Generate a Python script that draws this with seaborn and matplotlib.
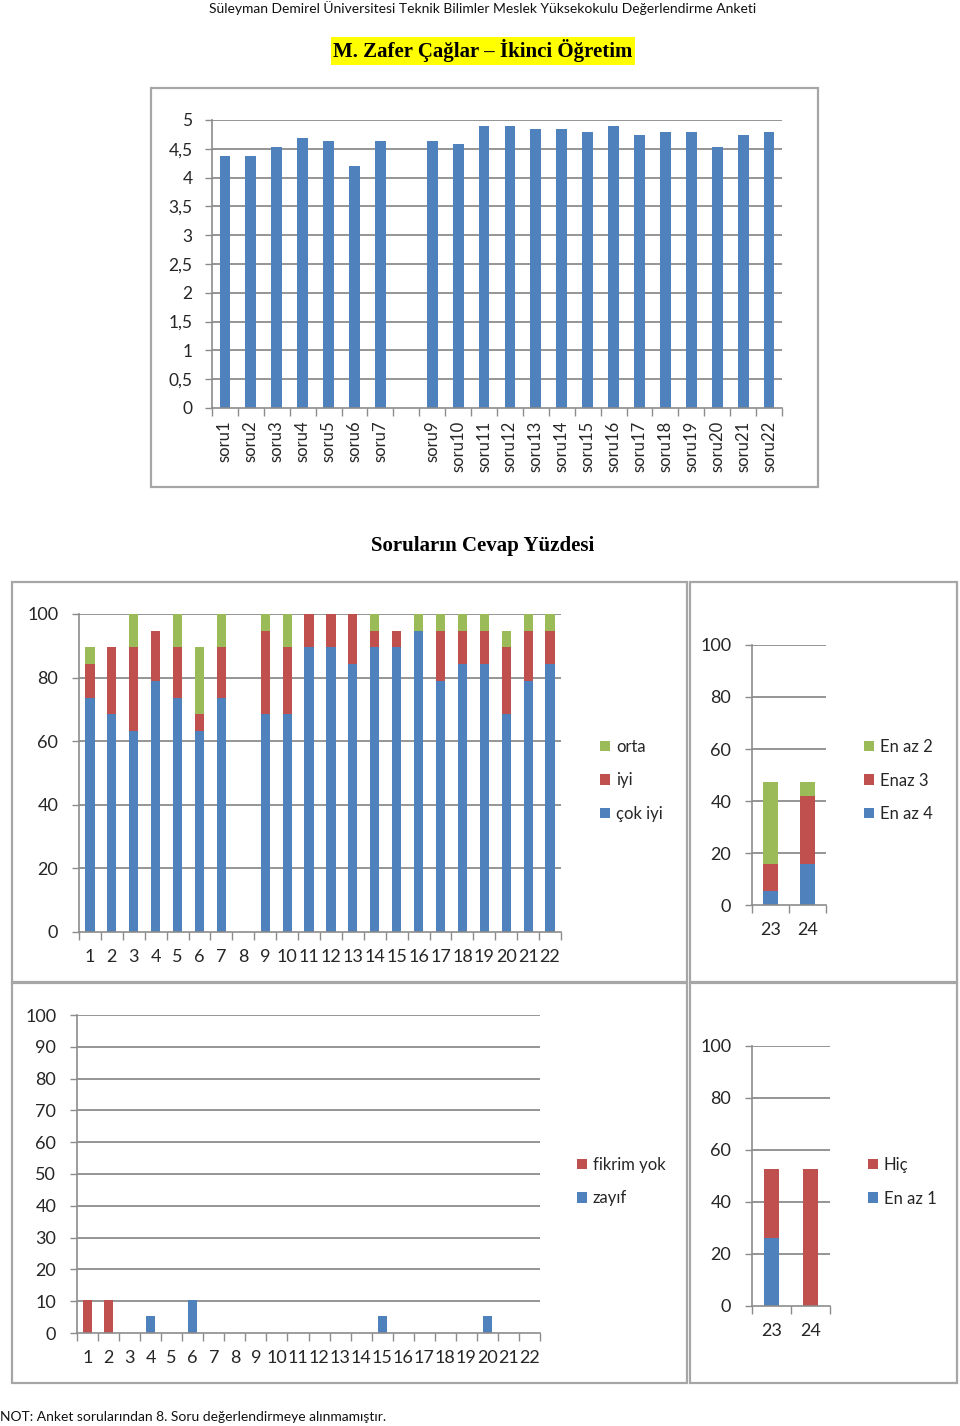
import numpy as np
import pandas as pd
import matplotlib
matplotlib.use("Agg")
import matplotlib.pyplot as plt
from matplotlib.patches import Rectangle
from matplotlib.ticker import FixedLocator
import seaborn as sns

sns.set_theme(style="white")
plt.rcParams['font.family'] = ['Lato', 'DejaVu Sans']

# ---------------- data ----------------
header_text = "Süleyman Demirel Üniversitesi Teknik Bilimler Meslek Yüksekokulu Değerlendirme Anketi"
title_text = "M. Zafer Çağlar – İkinci Öğretim"
section_title = "Soruların Cevap Yüzdesi"
footer_text = "NOT: Anket sorularından 8. Soru değerlendirmeye alınmamıştır."

# top chart: average score per question (soru8 excluded)
soru_labels = ["soru1", "soru2", "soru3", "soru4", "soru5", "soru6", "soru7", "",
               "soru9", "soru10", "soru11", "soru12", "soru13", "soru14", "soru15",
               "soru16", "soru17", "soru18", "soru19", "soru20", "soru21", "soru22"]
soru_means = [4.37, 4.37, 4.53, 4.68, 4.63, 4.21, 4.63, np.nan,
              4.63, 4.58, 4.89, 4.89, 4.84, 4.84, 4.79,
              4.89, 4.74, 4.79, 4.79, 4.53, 4.74, 4.79]
top_yticks = [0, 0.5, 1, 1.5, 2, 2.5, 3, 3.5, 4, 4.5, 5]
top_yticklabels = ["0", "0,5", "1", "1,5", "2", "2,5", "3", "3,5", "4", "4,5", "5"]

# questions 1..22 percentages
questions = [str(i) for i in range(1, 23)]
cok_iyi = [73.7, 68.4, 63.2, 78.9, 73.7, 63.2, 73.7, 0, 68.4, 68.4, 89.5,
           89.5, 84.2, 89.5, 89.5, 94.7, 78.9, 84.2, 84.2, 68.4, 78.9, 84.2]
iyi = [10.5, 21.1, 26.3, 15.8, 15.8, 5.3, 15.8, 0, 26.3, 21.1, 10.5,
       10.5, 15.8, 5.3, 5.3, 0, 15.8, 10.5, 10.5, 21.1, 15.8, 10.5]
orta = [5.3, 0, 10.5, 0, 10.5, 21.1, 10.5, 0, 5.3, 10.5, 0,
        0, 0, 5.3, 0, 5.3, 5.3, 5.3, 5.3, 5.3, 5.3, 5.3]
zayif = [0, 0, 0, 5.3, 0, 10.5, 0, 0, 0, 0, 0,
         0, 0, 0, 5.3, 0, 0, 0, 0, 5.3, 0, 0]
fikrim_yok = [10.5, 10.5, 0, 0, 0, 0, 0, 0, 0, 0, 0,
              0, 0, 0, 0, 0, 0, 0, 0, 0, 0, 0]

# questions 23, 24
q_extra = ["23", "24"]
en_az_4 = [5.3, 15.8]
enaz_3 = [10.5, 26.3]
en_az_2 = [31.6, 5.3]
en_az_1 = [26.3, 0]
hic = [26.3, 52.6]

BLUE = "#4F81BD"
RED = "#C0504D"
GREEN = "#9BBB59"
GRID = "#8C8C8C"
TXT = "#262626"

W, H = 960, 1426
fig = plt.figure(figsize=(W / 100, H / 100), dpi=100)


def fx(x):
    return x / W


def fy(y):
    return 1 - y / H


def add_axes_px(left, top, right, bottom):
    ax = fig.add_axes([fx(left), fy(bottom), (right - left) / W, (bottom - top) / H])
    ax.set_zorder(5)
    return ax


def panel(x0, y0, x1, y1):
    fig.patches.append(Rectangle((fx(x0), fy(y1)), (x1 - x0) / W, (y1 - y0) / H,
                                 transform=fig.transFigure, facecolor="white",
                                 edgecolor="#A6A6A6", linewidth=1.6, zorder=-10))


def style_axes(ax, n, yticks, yticklabels=None, fs=13, ypad=10):
    ax.set_facecolor("none")
    ax.set_xlim(-0.5, n - 0.5)
    ax.set_ylim(yticks[0], yticks[-1])
    ax.set_yticks(yticks)
    if yticklabels is not None:
        ax.set_yticklabels(yticklabels)
    for y in yticks[1:]:
        ax.axhline(y, color=GRID, lw=1.3, zorder=0)
    for s in ["top", "right"]:
        ax.spines[s].set_visible(False)
    for s in ["left", "bottom"]:
        ax.spines[s].set_color(GRID)
        ax.spines[s].set_linewidth(1.2)
    ax.xaxis.set_minor_locator(FixedLocator(np.arange(-0.5, n, 1.0)))
    ax.tick_params(axis="x", which="minor", length=6, width=1.0, color=GRID, direction="out", bottom=True)
    ax.tick_params(axis="x", which="major", length=0, labelsize=fs, labelcolor=TXT)
    ax.tick_params(axis="y", which="major", length=5, width=1.0, color=GRID, direction="out",
                   left=True, labelsize=fs, labelcolor=TXT, pad=ypad)
    ax.set_xlabel("")
    ax.set_ylabel("")


def stacked(ax, cats, layers, colors, labels, width):
    # draw from total down so the lower segments overlay the upper ones
    cum = np.cumsum(np.array(layers), axis=0)
    for i in range(len(layers) - 1, -1, -1):
        df = pd.DataFrame({"q": cats, "v": cum[i]})
        sns.barplot(data=df, x="q", y="v", order=cats, color=colors[i], width=width,
                    saturation=1, ax=ax, label=labels[i], edgecolor="none", zorder=2)


def legend_px(ax, x, y, fs=12):
    h, l = ax.get_legend_handles_labels()
    fig.legend(h, l, loc="upper left", bbox_to_anchor=(fx(x), fy(y)),
               bbox_transform=fig.transFigure, frameon=False, fontsize=fs,
               handlelength=0.6, handleheight=0.6, handletextpad=0.35,
               labelspacing=1.05, borderpad=0, borderaxespad=0, labelcolor=TXT)
    if ax.get_legend() is not None:
        ax.get_legend().remove()


# ---------------- texts ----------------
fig.text(fx(483), fy(8), header_text, ha="center", va="center", fontsize=10, color="#111111")
fig.text(fx(483), fy(51), title_text, ha="center", va="center", fontsize=15,
         fontweight="bold", family=["Liberation Serif", "DejaVu Serif"], color="black",
         bbox=dict(facecolor="#FFFF00", edgecolor="none", pad=1.5))
fig.text(fx(483), fy(546), section_title, ha="center", va="center", fontsize=15,
         fontweight="bold", family=["Liberation Serif", "DejaVu Serif"], color="black")
fig.text(fx(0), fy(1417), footer_text, ha="left", va="center", fontsize=10, color="#111111")

# ---------------- panels ----------------
panel(151, 88, 818, 487)
panel(12, 582, 687, 982)
panel(690, 582, 957, 982)
panel(12, 983, 687, 1383)
panel(690, 983, 957, 1383)

# ---------------- top chart ----------------
ax1 = add_axes_px(212, 120, 782, 408)
df_top = pd.DataFrame({"soru": [s if s else " " for s in soru_labels], "ort": soru_means})
order_top = list(df_top["soru"])
sns.barplot(data=df_top, x="soru", y="ort", order=order_top, color=BLUE, saturation=1,
            width=0.42, edgecolor="none", ax=ax1, zorder=2)
style_axes(ax1, len(soru_labels), top_yticks, top_yticklabels, fs=12.5, ypad=9)
ax1.set_xticks(range(len(soru_labels)))
ax1.set_xticklabels(soru_labels, rotation=90, fontsize=12, color=TXT)
ax1.tick_params(axis="x", which="major", pad=9)

# ---------------- middle left ----------------
ax2 = add_axes_px(79, 614, 561, 932)
stacked(ax2, questions, [cok_iyi, iyi, orta], [BLUE, RED, GREEN], ["çok iyi", "iyi", "orta"], 0.42)
style_axes(ax2, len(questions), [0, 20, 40, 60, 80, 100])
ax2.tick_params(axis="x", which="major", pad=12)
legend_px(ax2, 600, 739)

# ---------------- middle right ----------------
ax3 = add_axes_px(752, 645, 826, 905)
stacked(ax3, q_extra, [en_az_4, enaz_3, en_az_2], [BLUE, RED, GREEN], ["En az 4", "Enaz 3", "En az 2"], 0.4)
style_axes(ax3, len(q_extra), [0, 20, 40, 60, 80, 100])
ax3.tick_params(axis="x", which="major", pad=12)
legend_px(ax3, 864, 739)

# ---------------- bottom left ----------------
ax4 = add_axes_px(77, 1015, 540, 1333)
stacked(ax4, questions, [zayif, fikrim_yok], [BLUE, RED], ["zayıf", "fikrim yok"], 0.43)
style_axes(ax4, len(questions), list(range(0, 101, 10)))
ax4.tick_params(axis="x", which="major", pad=12)
legend_px(ax4, 577, 1157)

# ---------------- bottom right ----------------
ax5 = add_axes_px(752, 1046, 830, 1306)
stacked(ax5, q_extra, [en_az_1, hic], [BLUE, RED], ["En az 1", "Hiç"], 0.4)
style_axes(ax5, len(q_extra), [0, 20, 40, 60, 80, 100])
ax5.tick_params(axis="x", which="major", pad=12)
legend_px(ax5, 868, 1157)

fig.savefig("out.png", dpi=100, facecolor="white")
